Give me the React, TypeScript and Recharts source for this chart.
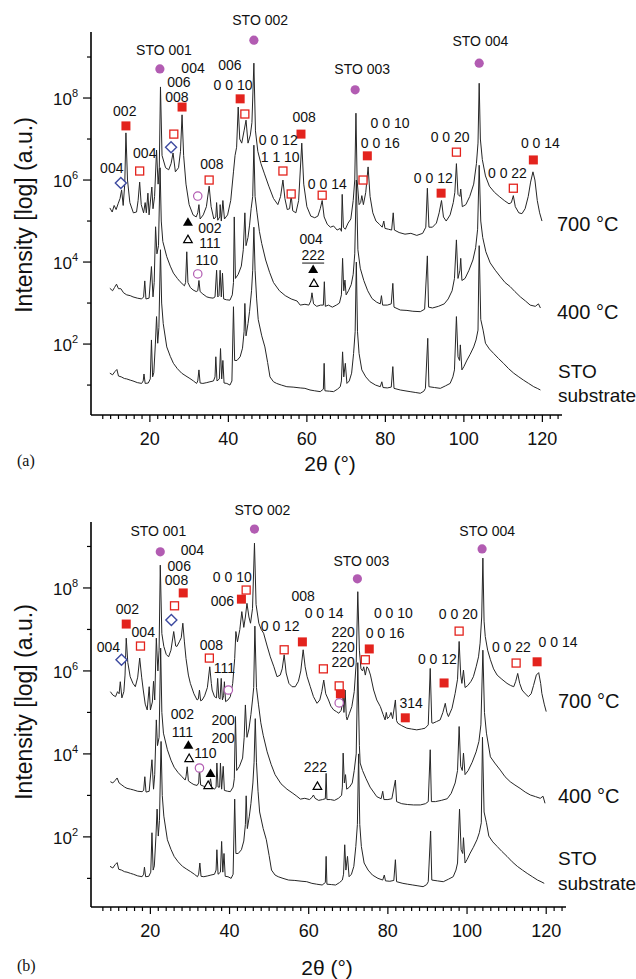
import React from 'react';
import { ComposedChart, Line, XAxis, YAxis, ReferenceDot } from 'recharts';

type Pt = [number, number];
type Mk = [number, number, string];
type Lb = [number, number, string];

// x axis ticks (2θ, degrees) and y axis ticks (log10 of counts)
const X_TICKS = [8, 10, 12, 14, 16, 18, 20, 22, 24, 26, 28, 30, 32, 34, 36, 38, 40, 42, 44, 46, 48, 50, 52, 54, 56, 58, 60, 62, 64, 66, 68, 70, 72, 74, 76, 78, 80, 82, 84, 86, 88, 90, 92, 94, 96, 98, 100, 102, 104, 106, 108, 110, 112, 114, 116, 118, 120, 122, 124];
const Y_TICKS = [1, 2, 3, 4, 5, 6, 7, 8, 9];

// Panel (a) 700 °C : [2θ, log10 intensity]
const a700: Pt[] = [[9.8,5.32],[10.4,5.22],[10.9,5.38],[11.4,5.28],[11.9,5.42],[12.4,5.55],[12.8,5.76],[13.2,5.38],[13.6,5.9],[13.9,7.15],[14.3,6.0],[14.9,5.45],[15.8,5.2],[16.6,5.22],[17.0,5.5],[17.4,5.95],[17.8,5.4],[18.4,5.2],[18.8,5.45],[19.1,5.2],[19.5,5.68],[19.8,5.15],[20.5,5.83],[20.8,5.3],[21.2,5.6],[21.7,6.73],[22.1,5.9],[22.4,6.3],[22.7,8.27],[23.1,6.6],[24.0,6.3],[24.8,6.25],[25.4,6.4],[25.9,6.66],[26.5,6.2],[27.3,6.3],[27.8,6.7],[28.2,7.59],[28.6,6.6],[29.2,5.9],[30.0,5.4],[31.0,5.15],[31.8,5.1],[32.2,5.2],[32.5,5.4],[32.8,5.05],[33.6,5.15],[34.4,5.35],[35.1,5.85],[35.6,5.35],[36.3,5.05],[36.8,5.1],[37.0,5.45],[37.3,5.02],[37.8,5.1],[37.9,5.4],[38.2,5.0],[38.6,5.5],[39.0,5.05],[39.8,5.15],[40.6,5.5],[41.3,6.2],[41.7,6.6],[42.1,6.8],[42.5,7.78],[42.9,7.0],[43.4,6.9],[44.0,7.2],[44.5,7.46],[45.0,6.9],[45.6,7.1],[46.0,7.4],[46.5,8.85],[46.9,7.2],[47.5,6.7],[48.3,6.4],[49.2,6.15],[50.3,5.85],[51.5,5.55],[52.6,5.4],[53.3,5.6],[53.9,6.0],[54.4,5.55],[55.0,5.28],[55.6,5.3],[56.0,5.62],[56.4,5.25],[57.2,5.2],[57.9,5.5],[58.7,6.9],[59.2,5.9],[60.0,5.35],[61.0,5.12],[62.0,5.08],[62.8,5.12],[63.4,5.3],[63.9,5.5],[64.4,5.1],[65.2,4.92],[66.0,4.85],[66.8,4.88],[67.7,4.78],[68.5,4.82],[68.8,4.75],[69.0,5.65],[69.3,4.85],[69.8,4.8],[70.5,4.95],[71.2,5.05],[71.8,5.5],[72.2,6.0],[72.5,7.63],[72.8,6.0],[73.3,5.4],[73.7,5.45],[74.0,5.62],[74.4,5.4],[75.0,5.7],[75.6,6.32],[76.1,5.6],[76.8,5.2],[77.6,5.0],[78.5,4.92],[79.2,4.85],[79.6,5.0],[79.9,4.82],[80.8,4.8],[81.6,4.78],[82.0,5.2],[82.3,4.78],[83.5,4.72],[85.0,4.68],[86.5,4.7],[88.0,4.65],[89.5,4.7],[90.3,4.85],[90.7,5.8],[91.1,4.85],[92.0,4.85],[93.0,4.95],[93.7,5.2],[94.3,5.5],[94.8,5.1],[95.5,5.0],[96.5,5.15],[97.3,5.45],[97.7,5.7],[98.1,6.4],[98.5,5.65],[99.0,5.6],[99.2,5.78],[99.6,5.35],[100.5,5.4],[101.5,5.6],[102.5,5.9],[103.2,6.4],[103.6,6.9],[103.9,8.36],[104.2,7.0],[104.7,6.5],[105.5,6.1],[106.5,5.85],[107.8,5.7],[109.0,5.6],[110.3,5.5],[111.5,5.42],[112.1,5.45],[112.6,5.62],[113.1,5.35],[114.0,5.2],[114.8,5.18],[115.6,5.3],[116.4,5.6],[117.0,5.95],[117.6,6.2],[118.1,6.0],[118.7,5.5],[119.3,5.2],[119.9,5.0]];

// Panel (a) 400 °C
const a400: Pt[] = [[9.8,3.36],[10.5,3.3],[11.0,3.38],[11.5,3.46],[12.0,3.35],[12.6,3.35],[13.3,3.25],[14.1,3.2],[15.0,3.18],[15.7,3.15],[16.8,3.12],[17.9,3.1],[18.4,3.15],[18.7,3.54],[19.0,3.1],[19.8,3.12],[20.4,3.89],[20.8,3.15],[21.1,3.5],[21.45,4.86],[21.8,4.2],[22.2,4.4],[22.6,6.3],[22.9,5.0],[23.3,4.5],[24.3,4.13],[25.2,3.9],[26.0,3.73],[27.0,3.6],[27.7,3.52],[28.8,3.42],[29.1,3.5],[29.4,4.25],[29.7,3.5],[30.3,3.38],[31.0,3.32],[31.8,3.28],[32.2,3.3],[32.5,3.55],[32.8,3.28],[33.5,3.22],[34.5,3.15],[35.3,3.13],[36.1,3.12],[36.6,3.15],[37.0,3.8],[37.3,3.15],[37.6,3.18],[37.9,3.8],[38.2,3.15],[38.5,3.73],[38.8,3.1],[39.5,3.08],[40.4,3.07],[41.0,3.2],[41.3,3.5],[41.5,5.1],[41.8,3.6],[42.5,3.7],[43.3,3.9],[43.8,4.3],[44.2,5.2],[44.5,4.4],[45.0,4.6],[45.4,4.9],[45.8,5.3],[46.2,5.6],[46.5,6.85],[46.8,5.6],[47.3,5.2],[47.9,4.75],[48.5,4.45],[49.5,4.05],[50.5,3.75],[51.5,3.5],[53.0,3.3],[54.5,3.18],[56.0,3.1],[57.5,3.05],[58.3,2.95],[59.5,2.97],[60.5,2.95],[61.0,3.05],[61.3,3.25],[61.7,2.98],[62.5,2.92],[63.5,2.95],[64.2,2.95],[64.45,3.52],[64.7,2.92],[65.5,2.95],[66.5,2.9],[67.5,2.95],[68.3,3.0],[68.8,3.2],[69.1,4.09],[69.4,3.3],[69.7,3.56],[70.0,3.2],[70.6,3.3],[71.3,3.45],[71.8,3.7],[72.2,4.2],[72.6,6.0],[73.0,4.3],[73.6,3.85],[74.5,3.55],[75.5,3.3],[76.6,3.11],[77.8,3.02],[78.7,2.98],[79.0,3.18],[79.3,2.95],[80.5,2.95],[81.5,2.98],[81.9,3.48],[82.2,2.9],[83.8,2.83],[85.5,2.82],[87.0,2.8],[88.9,2.79],[90.0,2.85],[90.7,4.15],[91.0,2.9],[92.0,2.88],[93.5,2.92],[95.0,2.98],[96.0,3.1],[97.0,3.3],[97.6,3.6],[98.1,4.54],[98.5,3.6],[99.0,3.8],[99.2,4.09],[99.5,3.55],[100.3,3.6],[101.3,3.8],[102.3,4.05],[103.0,4.35],[103.5,4.8],[103.9,6.36],[104.3,5.0],[104.8,4.6],[105.6,4.25],[106.7,3.98],[108.0,3.8],[109.3,3.64],[110.5,3.5],[111.8,3.4],[113.0,3.28],[114.4,3.15],[115.7,3.05],[116.9,2.95],[118.2,2.92],[119.0,2.98],[119.5,2.88]];

// STO substrate (same measurement in both panels)
const substrate: Pt[] = [[9.8,1.29],[10.5,1.25],[11.1,1.33],[11.6,1.38],[12.0,1.22],[12.7,1.2],[13.5,1.16],[14.1,1.15],[15.0,1.12],[15.7,1.1],[16.8,1.06],[17.9,1.04],[18.3,1.1],[18.5,1.27],[18.8,1.04],[19.6,1.05],[20.1,1.15],[20.4,2.1],[20.7,1.2],[21.0,1.3],[21.4,2.0],[21.7,2.67],[22.0,2.02],[22.3,2.4],[22.7,4.3],[23.0,3.0],[23.4,2.5],[24.3,1.93],[25.2,1.7],[26.0,1.53],[27.0,1.4],[28.1,1.29],[29.2,1.22],[30.2,1.16],[31.1,1.1],[31.9,1.04],[32.2,1.1],[32.5,1.37],[32.8,1.05],[33.5,1.04],[34.5,1.06],[35.3,1.08],[36.2,1.1],[36.6,1.2],[36.8,1.69],[37.1,1.1],[37.7,1.15],[38.0,1.89],[38.3,1.15],[38.6,1.6],[38.9,1.05],[39.6,1.04],[40.4,1.0],[40.9,1.1],[41.3,2.91],[41.6,1.6],[42.2,1.6],[43.0,1.69],[43.6,1.9],[44.0,2.3],[44.2,2.99],[44.5,2.2],[45.0,2.5],[45.4,2.8],[45.9,3.3],[46.2,3.8],[46.5,4.85],[46.8,3.8],[47.2,3.1],[47.6,2.6],[48.5,2.2],[49.3,1.93],[50.0,1.55],[50.6,1.2],[51.5,1.08],[52.3,1.04],[53.5,1.0],[54.9,0.96],[56.5,0.95],[58.3,0.93],[59.5,0.92],[60.8,0.88],[62.0,0.86],[63.4,0.84],[64.2,0.9],[64.4,1.53],[64.6,0.86],[65.8,0.85],[66.8,0.84],[67.8,0.9],[68.5,0.96],[68.8,1.1],[69.1,1.81],[69.4,1.2],[69.8,1.53],[70.2,1.04],[70.8,1.1],[71.4,1.29],[71.9,1.77],[72.3,2.3],[72.6,4.0],[72.9,2.3],[73.3,1.77],[74.0,1.37],[75.0,1.2],[76.1,1.08],[77.5,1.0],[78.7,0.96],[79.1,1.08],[79.4,0.94],[80.5,0.93],[81.5,0.95],[81.9,1.45],[82.2,0.92],[83.8,0.88],[85.0,0.86],[86.3,0.84],[87.6,0.82],[88.9,0.8],[89.8,0.85],[90.2,0.92],[90.8,2.14],[91.1,0.96],[92.5,0.94],[94.0,0.92],[95.3,0.98],[96.5,1.04],[97.2,1.2],[97.6,1.37],[98.1,2.67],[98.5,1.69],[98.9,1.6],[99.1,1.98],[99.5,1.37],[100.0,1.45],[100.8,1.61],[101.6,1.75],[102.5,1.93],[103.1,2.1],[103.6,2.34],[103.9,4.4],[104.3,2.6],[104.9,2.34],[105.5,2.02],[106.5,1.88],[107.6,1.77],[108.8,1.65],[110.1,1.53],[111.4,1.4],[112.7,1.29],[114.0,1.2],[115.2,1.12],[116.5,1.04],[117.8,0.96],[118.7,0.92],[119.5,0.88]];

// Panel (b) 700 °C
const b700: Pt[] = [[9.9,5.5],[10.5,5.42],[11.2,5.38],[11.7,5.5],[12.1,5.45],[12.4,5.74],[12.8,5.35],[13.3,5.5],[13.6,5.9],[13.9,6.79],[14.3,6.2],[14.9,5.86],[15.6,5.7],[16.2,5.62],[16.8,5.85],[17.3,6.31],[17.8,5.85],[18.2,5.54],[18.7,5.2],[19.2,5.06],[19.7,5.62],[20.0,5.06],[20.5,5.25],[20.8,5.75],[21.1,5.3],[21.5,6.79],[21.9,6.0],[22.2,6.5],[22.5,8.55],[22.9,6.9],[23.4,6.59],[24.0,6.4],[24.6,6.34],[25.2,6.5],[25.9,6.95],[26.4,6.6],[26.7,6.59],[27.3,6.7],[27.8,6.8],[28.2,7.15],[28.6,6.7],[29.0,6.3],[29.6,5.9],[30.1,5.7],[31.0,5.45],[31.8,5.3],[32.1,5.32],[32.4,5.54],[32.7,5.28],[33.1,5.3],[33.7,5.4],[34.4,5.6],[35.0,6.1],[35.4,5.7],[35.6,5.54],[36.2,5.38],[36.7,5.35],[37.0,5.82],[37.3,5.35],[37.6,5.32],[37.9,5.82],[38.2,5.3],[38.5,5.4],[38.7,5.74],[39.0,5.26],[39.6,5.3],[40.2,5.38],[40.8,5.7],[41.3,6.3],[41.6,6.95],[42.0,6.7],[42.6,7.0],[43.1,7.43],[43.6,7.05],[44.0,7.3],[44.4,7.63],[44.9,7.3],[45.3,7.15],[45.8,7.5],[46.3,9.08],[46.7,7.6],[47.4,7.15],[48.0,7.0],[48.6,6.91],[49.5,6.6],[50.3,6.34],[51.2,6.1],[52.0,5.86],[52.8,5.9],[53.3,6.05],[53.8,6.39],[54.3,5.95],[55.0,5.7],[55.8,5.62],[56.6,5.62],[57.4,5.75],[58.0,6.0],[58.6,6.51],[59.1,6.1],[59.6,5.86],[60.4,5.62],[61.2,5.38],[62.1,5.22],[62.8,5.3],[63.3,5.5],[63.8,5.78],[64.3,5.45],[65.0,5.3],[65.6,5.15],[66.3,5.06],[67.0,5.02],[67.6,4.98],[68.2,5.05],[68.5,5.2],[68.7,5.38],[68.9,5.0],[69.2,5.54],[69.5,4.9],[69.7,4.82],[70.3,4.98],[70.9,5.14],[71.5,5.5],[72.0,6.2],[72.4,7.91],[72.8,6.5],[73.2,6.05],[73.6,6.0],[73.9,6.1],[74.3,5.9],[74.7,6.1],[75.1,6.05],[75.6,5.9],[76.4,5.54],[77.2,5.3],[78.1,5.14],[78.8,4.95],[79.3,4.82],[79.6,5.0],[79.9,4.85],[80.4,4.9],[80.8,5.0],[81.2,4.85],[81.9,5.3],[82.2,4.8],[82.5,4.74],[83.5,4.68],[84.8,4.62],[86.0,4.6],[87.3,4.58],[88.5,4.6],[89.4,4.62],[90.2,4.7],[90.7,6.06],[91.1,4.75],[91.4,4.74],[92.3,4.78],[93.2,4.82],[93.9,5.0],[94.5,5.22],[94.9,5.0],[95.3,4.9],[96.2,5.1],[97.0,5.46],[97.6,5.8],[98.0,6.71],[98.4,5.9],[98.7,5.7],[99.1,6.02],[99.5,5.6],[100.2,5.65],[101.0,5.75],[101.6,5.86],[102.3,6.1],[102.9,6.34],[103.3,6.67],[103.7,7.3],[104.0,8.72],[104.3,7.2],[104.6,6.83],[105.2,6.5],[105.9,6.27],[106.7,6.05],[107.6,5.9],[108.8,5.8],[110.1,5.7],[111.0,5.65],[111.8,5.62],[112.3,5.75],[112.8,5.94],[113.3,5.7],[113.9,5.54],[114.7,5.45],[115.5,5.38],[116.2,5.45],[116.8,5.65],[117.5,5.9],[118.1,5.96],[118.6,5.7],[118.9,5.46],[119.5,5.2],[120.0,5.02]];

// Panel (b) 400 °C
const b400: Pt[] = [[9.9,3.33],[10.5,3.3],[11.1,3.36],[11.6,3.42],[12.1,3.3],[12.8,3.25],[13.5,3.2],[14.1,3.17],[15.0,3.15],[15.8,3.13],[16.8,3.1],[17.9,3.09],[18.3,3.12],[18.6,3.45],[18.9,3.08],[19.7,3.1],[20.4,3.86],[20.8,3.15],[21.1,3.5],[21.5,4.82],[21.8,4.2],[22.2,4.4],[22.6,6.55],[22.9,5.0],[23.3,4.5],[24.3,4.1],[25.2,3.85],[26.0,3.68],[27.0,3.55],[28.0,3.45],[28.8,3.37],[29.0,3.45],[29.3,3.69],[29.6,3.35],[30.3,3.3],[31.0,3.26],[31.8,3.24],[32.2,3.3],[32.4,3.66],[32.7,3.25],[33.5,3.22],[34.3,3.21],[34.9,3.25],[35.2,3.4],[35.5,3.2],[36.2,3.15],[36.6,3.2],[36.8,3.78],[37.1,3.2],[37.5,3.2],[37.7,3.78],[38.0,3.15],[38.4,3.7],[38.7,3.12],[39.5,3.1],[40.2,3.09],[40.9,3.2],[41.2,3.4],[41.5,4.9],[41.8,3.6],[42.5,3.7],[43.3,3.9],[43.7,4.4],[44.0,5.18],[44.4,4.4],[44.9,4.6],[45.4,4.95],[45.8,5.3],[46.1,5.6],[46.4,7.08],[46.8,5.6],[47.3,5.2],[47.9,4.75],[48.5,4.45],[49.5,4.05],[50.5,3.75],[51.5,3.5],[53.0,3.28],[54.5,3.15],[56.0,3.05],[57.0,2.98],[57.9,2.91],[59.0,2.93],[60.2,2.9],[60.8,2.95],[61.2,3.01],[61.6,2.93],[62.5,2.88],[63.5,2.9],[64.2,2.92],[64.4,3.53],[64.6,2.9],[65.5,2.9],[66.5,2.88],[67.5,2.93],[68.3,3.0],[68.5,3.2],[68.7,4.02],[69.0,3.3],[69.3,3.5],[69.6,3.15],[70.3,3.2],[71.0,3.3],[71.5,3.6],[72.0,4.0],[72.4,6.2],[72.8,4.2],[73.0,3.78],[73.6,3.6],[74.5,3.4],[75.5,3.2],[77.2,2.97],[78.3,2.92],[78.7,3.1],[79.0,2.9],[80.0,2.9],[81.0,2.92],[81.9,3.37],[82.2,2.85],[83.5,2.8],[85.0,2.78],[86.5,2.77],[88.2,2.77],[89.5,2.8],[90.2,2.85],[90.7,4.1],[91.0,2.85],[92.0,2.85],[93.5,2.88],[95.0,2.92],[96.0,3.05],[97.0,3.3],[97.6,3.6],[98.0,4.66],[98.4,3.7],[98.8,3.6],[99.1,4.02],[99.5,3.5],[100.3,3.6],[101.3,3.8],[102.3,4.05],[103.0,4.3],[103.5,4.7],[104.0,6.5],[104.4,5.0],[104.9,4.5],[105.9,3.93],[107.0,3.78],[108.4,3.61],[109.6,3.45],[110.9,3.33],[112.1,3.25],[113.4,3.17],[114.7,3.08],[116.0,3.01],[117.3,2.97],[118.5,2.93],[119.2,2.98],[119.7,2.81]];

// Phase markers: [2θ, log10 intensity, kind]
const aMarkers: Mk[] = [
  [22.55,8.71,'sto'],[46.5,9.41,'sto'],[72.3,8.2,'sto'],[103.9,8.85,'sto'],
  [13.9,7.32,'fsq'],[28.2,7.78,'fsq'],[43.0,7.98,'fsq'],[58.5,7.12,'fsq'],[75.4,6.59,'fsq'],[94.2,5.68,'fsq'],[117.7,6.49,'fsq'],
  [17.4,6.22,'osq'],[26.1,7.12,'osq'],[35.1,6.0,'osq'],[44.2,7.61,'osq'],[53.9,6.22,'osq'],[56.0,5.66,'osq'],[63.9,5.63,'osq'],[74.3,6.0,'osq'],[98.1,6.68,'osq'],[112.6,5.8,'osq'],
  [12.6,5.93,'dia'],[25.4,6.8,'dia'],
  [32.2,5.61,'ocirc'],[32.2,3.71,'ocirc'],
  [29.7,4.98,'ftri'],[61.6,3.83,'ftri'],
  [29.7,4.56,'otri'],[61.8,3.49,'otri'],
];
const aLabels: Lb[] = [
  [23.6,9.17,'STO 001'],[48.1,9.9,'STO 002'],[74.1,8.71,'STO 003'],[104.2,9.39,'STO 004'],
  [13.6,7.68,'002'],[10.3,6.29,'004'],[18.7,6.66,'004'],
  [31.0,8.73,'004'],[27.4,8.39,'006'],[26.9,8.02,'008'],
  [35.8,6.39,'008'],[40.4,8.8,'006'],[41.2,8.32,'0 0 10'],
  [52.7,6.98,'0 0 12'],[53.2,6.56,'1 1 10'],[59.3,7.54,'008'],[65.2,5.9,'0 0 14'],
  [81.2,7.39,'0 0 10'],[78.7,6.9,'0 0 16'],[92.2,6.05,'0 0 12'],[96.5,7.05,'0 0 20'],
  [111.1,6.17,'0 0 22'],[119.5,6.9,'0 0 14'],
  [35.3,4.83,'002'],[35.3,4.47,'111'],[34.5,4.05,'110'],
  [61.1,4.56,'004'],[61.6,4.17,'222u'],
];
const bMarkers: Mk[] = [
  [22.5,8.87,'sto'],[46.3,9.42,'sto'],[72.3,8.22,'sto'],[103.8,8.94,'sto'],
  [13.9,7.13,'fsq'],[28.3,7.88,'fsq'],[43.0,7.73,'fsq'],[58.4,6.7,'fsq'],[68.0,5.45,'fsq'],[75.3,6.53,'fsq'],[84.4,4.87,'fsq'],[94.2,5.71,'fsq'],[117.7,6.22,'fsq'],
  [17.5,6.6,'osq'],[26.1,7.57,'osq'],[34.9,6.31,'osq'],[44.2,7.95,'osq'],[53.8,6.51,'osq'],[63.7,6.05,'osq'],[67.7,5.64,'osq'],[74.3,6.27,'osq'],[98.0,6.96,'osq'],[112.4,6.19,'osq'],
  [12.7,6.27,'dia'],[25.3,7.23,'dia'],
  [39.7,5.54,'ocirc'],[67.7,5.23,'ocirc'],[32.4,3.66,'ocirc'],
  [29.6,4.22,'ftri'],[35.2,3.54,'ftri'],
  [29.8,3.9,'otri'],[34.6,3.25,'otri'],[62.2,3.23,'otri'],
];
const bLabels: Lb[] = [
  [22.0,9.37,'STO 001'],[48.3,9.88,'STO 002'],[73.3,8.65,'STO 003'],[105.1,9.37,'STO 004'],
  [30.6,8.92,'004'],[27.3,8.53,'006'],[26.6,8.19,'008'],
  [14.2,7.49,'002'],[18.2,6.94,'004'],[9.4,6.58,'004'],
  [35.4,6.63,'008'],[38.7,6.07,'111'],
  [40.7,8.27,'0 0 10'],[38.2,7.69,'006'],[52.8,7.08,'0 0 12'],[58.6,7.8,'008'],[63.9,7.4,'0 0 14'],
  [68.7,6.93,'220'],[68.7,6.58,'220'],[68.7,6.22,'220'],
  [81.4,7.4,'0 0 10'],[79.3,6.92,'0 0 16'],[85.9,5.23,'314'],[92.5,6.29,'0 0 12'],[97.8,7.37,'0 0 20'],
  [111.2,6.58,'0 0 22'],[123.0,6.7,'0 0 14'],
  [28.1,4.96,'002'],[28.1,4.53,'111'],[33.9,4.02,'110'],[38.4,4.82,'200'],[38.4,4.39,'200'],[61.7,3.69,'222'],
];

const SANS = '"Liberation Sans", Arial, Helvetica, sans-serif';
const RED = '#e3231d';
const PURPLE = '#b25cb2';
const BLUE = '#3d4aa0';

const toRows = (pts: Pt[]) => pts.map(([x, y]) => ({ x, y }));

const XTick = (p: any) => {
  const { x, y, payload } = p;
  const v = payload.value as number;
  const major = v % 20 === 0;
  return (
    <g>
      <line x1={x} x2={x} y1={y} y2={y + (major ? 7 : 4)} stroke="#000" strokeWidth={1.2} />
      {major && (
        <text x={x} y={y + 30} textAnchor="middle" fontSize={18} fontFamily={SANS} fill="#111">{v}</text>
      )}
    </g>
  );
};

const YTick = (p: any) => {
  const { x, y, payload } = p;
  const v = payload.value as number;
  const major = v % 2 === 0;
  return (
    <g>
      <line x1={x} x2={x - (major ? 8 : 4)} y1={y} y2={y} stroke="#000" strokeWidth={1.2} />
      {major && (
        <text x={x - 13} y={y + 7} textAnchor="end" fontSize={17} fontFamily={SANS} fill="#111">
          10<tspan dy={-8} fontSize={11}>{v}</tspan>
        </text>
      )}
    </g>
  );
};

const markerShape = (kind: string) => (p: any) => {
  const { cx, cy } = p;
  if (cx == null || cy == null) return <g />;
  switch (kind) {
    case 'sto':
      return <circle cx={cx} cy={cy} r={4.6} fill={PURPLE} />;
    case 'fsq':
      return <rect x={cx - 4.5} y={cy - 4.5} width={9} height={9} fill={RED} />;
    case 'osq':
      return <rect x={cx - 4} y={cy - 4} width={8} height={8} fill="#fff" stroke={RED} strokeWidth={1.3} />;
    case 'dia':
      return <polygon points={`${cx},${cy - 5.5} ${cx + 5.5},${cy} ${cx},${cy + 5.5} ${cx - 5.5},${cy}`} fill="#fff" stroke={BLUE} strokeWidth={1.4} />;
    case 'ocirc':
      return <circle cx={cx} cy={cy} r={4.2} fill="#fff" stroke={PURPLE} strokeWidth={1.2} />;
    case 'ftri':
      return <polygon points={`${cx},${cy - 4.5} ${cx + 5},${cy + 4} ${cx - 5},${cy + 4}`} fill="#000" />;
    case 'otri':
      return <polygon points={`${cx},${cy - 4} ${cx + 4.3},${cy + 3.5} ${cx - 4.3},${cy + 3.5}`} fill="#fff" stroke="#000" strokeWidth={1.2} />;
    default:
      return <g />;
  }
};

const textShape = (t: string) => (p: any) => {
  const { cx, cy } = p;
  if (cx == null || cy == null) return <g />;
  const underline = t.endsWith('u');
  const s = underline ? t.slice(0, -1) : t;
  return (
    <g>
      <text x={cx} y={cy} textAnchor="middle" dominantBaseline="central" fontSize={14} fontFamily={SANS} fill="#111">{s}</text>
      {underline && <line x1={cx - 11} x2={cx + 11} y1={cy + 8} y2={cy + 8} stroke="#111" strokeWidth={1} />}
    </g>
  );
};

type PanelProps = {
  top: number;
  height: number;
  margin: { top: number; right: number; bottom: number; left: number };
  yDomain: [number, number];
  curves: Pt[][];
  markers: Mk[];
  labels: Lb[];
};

function Panel({ top, height, margin, yDomain, curves, markers, labels }: PanelProps) {
  return (
    <div style={{ position: 'absolute', left: 0, top, width: 636, height }}>
      <ComposedChart width={636} height={height} margin={margin}>
        <XAxis
          type="number"
          dataKey="x"
          domain={[5, 125]}
          ticks={X_TICKS}
          interval={0}
          allowDataOverflow
          height={30}
          tickSize={0}
          tickMargin={0}
          tickLine={false}
          axisLine={{ stroke: '#000', strokeWidth: 1.6 }}
          tick={XTick}
        />
        <YAxis
          type="number"
          dataKey="y"
          domain={yDomain}
          ticks={Y_TICKS}
          interval={0}
          allowDataOverflow
          width={91}
          tickSize={0}
          tickMargin={0}
          tickLine={false}
          axisLine={{ stroke: '#000', strokeWidth: 1.6 }}
          tick={YTick}
        />
        {curves.map((c, i) => (
          <Line
            key={`c${i}`}
            data={toRows(c)}
            dataKey="y"
            type="linear"
            stroke="#262626"
            strokeWidth={1}
            dot={false}
            activeDot={false}
            isAnimationActive={false}
          />
        ))}
        {markers.map((m, i) => (
          <ReferenceDot key={`m${i}`} x={m[0]} y={m[1]} r={4} ifOverflow="visible" shape={markerShape(m[2])} />
        ))}
        {labels.map((l, i) => (
          <ReferenceDot key={`l${i}`} x={l[0]} y={l[1]} r={1} ifOverflow="visible" shape={textShape(l[2])} />
        ))}
      </ComposedChart>
    </div>
  );
}

export default function App() {
  return (
    <div style={{ position: 'absolute', left: 0, top: 0, width: 636, height: 979, background: '#fff', overflow: 'hidden' }}>
      <Panel
        top={0}
        height={470}
        margin={{ top: 32, right: 74, bottom: 25, left: 0 }}
        yDomain={[0.27, 9.61]}
        curves={[a700, a400, substrate]}
        markers={aMarkers}
        labels={aLabels}
      />
      <Panel
        top={490}
        height={489}
        margin={{ top: 32, right: 70, bottom: 42, left: 0 }}
        yDomain={[0.31, 9.59]}
        curves={[b700, b400, substrate]}
        markers={bMarkers}
        labels={bLabels}
      />
      <svg width={636} height={979} style={{ position: 'absolute', left: 0, top: 0, pointerEvents: 'none' }}>
        <g fontFamily={SANS} fill="#111">
          <text transform="translate(32,215) rotate(-90)" textAnchor="middle" fontSize={23}>Intensity [log] (a.u.)</text>
          <text x={330} y={471} textAnchor="middle" fontSize={21}>2θ (°)</text>
          <text x={557} y={231} fontSize={20}>700 °C</text>
          <text x={557} y={319} fontSize={20}>400 °C</text>
          <text x={558} y={378} fontSize={19}>STO</text>
          <text x={558} y={402} fontSize={19}>substrate</text>

          <text transform="translate(32,702) rotate(-90)" textAnchor="middle" fontSize={23}>Intensity [log] (a.u.)</text>
          <text x={327} y={975} textAnchor="middle" fontSize={21}>2θ (°)</text>
          <text x={558} y={708} fontSize={20}>700 °C</text>
          <text x={558} y={803} fontSize={20}>400 °C</text>
          <text x={558} y={865} fontSize={19}>STO</text>
          <text x={558} y={890} fontSize={19}>substrate</text>
        </g>
        <text x={17} y={466} fontSize={16} fontFamily='"Liberation Serif", "Times New Roman", serif' fill="#111">(a)</text>
        <text x={17} y={971} fontSize={16} fontFamily='"Liberation Serif", "Times New Roman", serif' fill="#111">(b)</text>
      </svg>
    </div>
  );
}
